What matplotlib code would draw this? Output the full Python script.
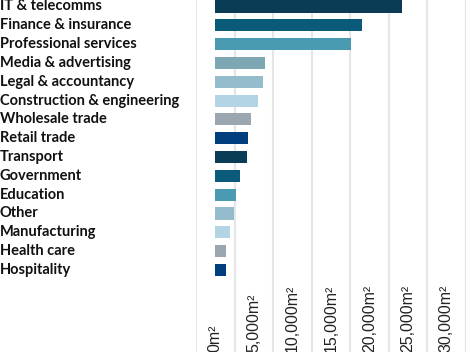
import matplotlib
matplotlib.use("Agg")
import matplotlib.pyplot as plt
from matplotlib.ticker import MultipleLocator
from matplotlib.transforms import blended_transform_factory

sectors = ["IT & telecomms", "Finance & insurance", "Professional services",
           "Media & advertising", "Legal & accountancy", "Construction & engineering",
           "Wholesale trade", "Retail trade", "Transport", "Government", "Education",
           "Other", "Manufacturing", "Health care", "Hospitality"]
area = [24250, 19050, 17650, 6400, 6150, 5500, 4600, 4200, 4100, 3150, 2700,
        2450, 1900, 1450, 1350]
colors = ["#0b3c55", "#0a5a7a", "#4a9bb2", "#7ea7b4", "#95bccd", "#b3d4e4",
          "#9aa7b0", "#003d7d", "#0b3c55", "#0a5a7a", "#4a9bb2", "#95bccd",
          "#b3d4e4", "#9aa7b0", "#003d7d"]
ticks = [0, 5000, 10000, 15000, 20000, 25000, 30000]
tick_labels = ["0m²", "5,000m²", "10,000m²", "15,000m²", "20,000m²", "25,000m²", "30,000m²"]

fig = plt.figure(figsize=(4.66, 3.52), dpi=100)
ax = fig.add_axes([196 / 466, 0, 270 / 466, 1])

y = list(range(len(sectors)))
ax.barh(y, area, height=0.64, color=colors, zorder=2)
ax.set_xlim(-2500, 32560)
ax.set_ylim(18.36, -0.345)

# grid sits half a step off the labels, as in the original
ax.xaxis.set_minor_locator(MultipleLocator(5000, offset=2500))
ax.grid(which="minor", axis="x", color="#e6e6e6", lw=1.5, zorder=0)
ax.set_xticks([])
ax.set_yticks([])
for s in ax.spines.values():
    s.set_visible(False)

ty = blended_transform_factory(fig.transFigure, ax.transData)
for yi, name in zip(y, sectors):
    ax.text(0.0, yi, name, transform=ty, ha="left", va="center",
            fontsize=10.5, fontweight="bold", family="Lato", color="#111111")

tx = blended_transform_factory(ax.transData, fig.transFigure)
for t, lab in zip(ticks, tick_labels):
    ax.text(t, 0.0, lab, transform=tx, rotation=90, ha="center", va="bottom",
            fontsize=11.5, family="Liberation Sans", color="#222222", clip_on=False)

fig.savefig("out.png", dpi=100)
